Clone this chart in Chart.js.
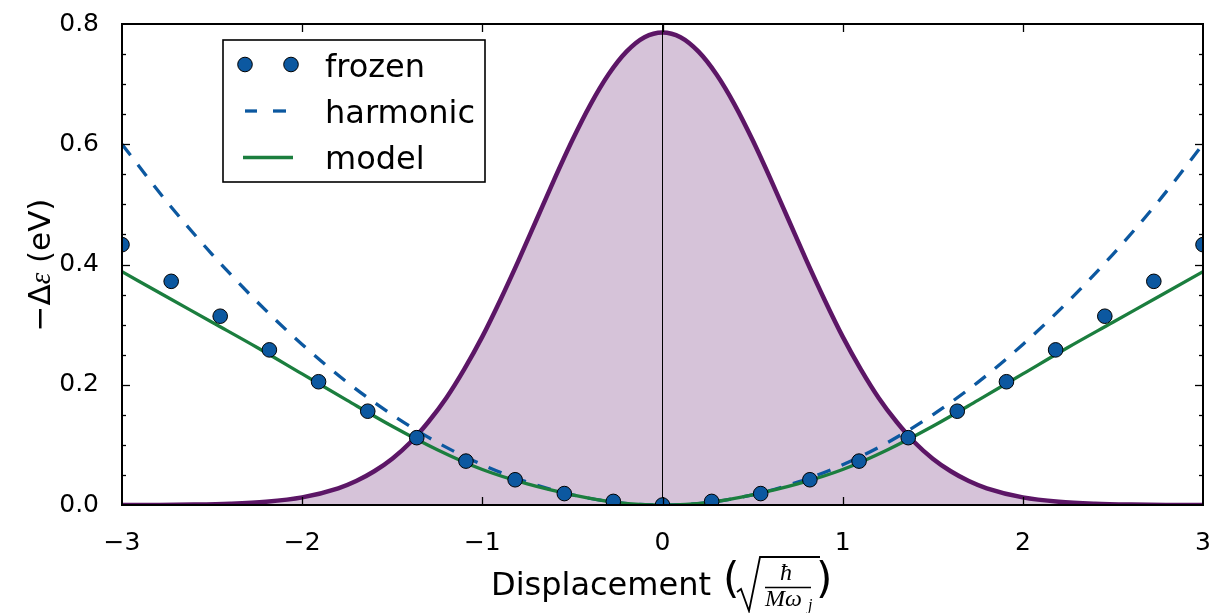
<!DOCTYPE html>
<html><head><meta charset="utf-8">
<script src="https://cdn.jsdelivr.net/npm/chart.js@4.4.1/dist/chart.umd.min.js"></script>
<style>html,body{margin:0;padding:0;background:#fff;overflow:hidden}#wrap{width:1229px;height:613px}</style>
</head><body><div id="wrap"><canvas id="c" width="1229" height="613"></canvas></div>
<script>
// ---- data ----
const frozenX = [-3, -2.727, -2.455, -2.182, -1.909, -1.636, -1.364, -1.091, -0.818, -0.545, -0.273, 0,
                 0.273, 0.545, 0.818, 1.091, 1.364, 1.636, 1.909, 2.182, 2.455, 2.727, 3];
const frozenY = [0.433, 0.372, 0.314, 0.258, 0.205, 0.156, 0.112, 0.073, 0.042, 0.019, 0.006, 0.0,
                 0.006, 0.019, 0.042, 0.073, 0.112, 0.156, 0.205, 0.258, 0.314, 0.372, 0.433];

const curveX = [-3, -2.75, -2.5, -2.25, -2, -1.75, -1.5, -1.25, -1, -0.75, -0.5, -0.25, 0,
                0.25, 0.5, 0.75, 1, 1.25, 1.5, 1.75, 2, 2.25, 2.5, 2.75, 3];
const harmonicY = [0.600, 0.504, 0.417, 0.338, 0.267, 0.204, 0.150, 0.104, 0.067, 0.038, 0.017, 0.004, 0,
                   0.004, 0.017, 0.038, 0.067, 0.104, 0.150, 0.204, 0.267, 0.338, 0.417, 0.504, 0.600];
const modelY = [0.388, 0.346, 0.304, 0.262, 0.218, 0.174, 0.131, 0.092, 0.059, 0.035, 0.017, 0.004, 0,
                0.004, 0.017, 0.035, 0.059, 0.092, 0.131, 0.174, 0.218, 0.262, 0.304, 0.346, 0.388];

const densityX = [-3, -2.8, -2.6, -2.4, -2.2, -2, -1.8, -1.7, -1.6, -1.5, -1.4, -1.3, -1.2, -1.1, -1, -0.9, -0.8, -0.7,
                  -0.6, -0.5, -0.4, -0.3, -0.2, -0.1, 0,
                  0.1, 0.2, 0.3, 0.4, 0.5, 0.6, 0.7, 0.8, 0.9, 1, 1.1, 1.2, 1.3, 1.4, 1.5, 1.6, 1.7, 1.8,
                  2, 2.2, 2.4, 2.6, 2.8, 3];
const densityY = [0.0001, 0.0002, 0.0007, 0.0021, 0.0054, 0.0127, 0.0278, 0.0399, 0.0561, 0.077, 0.104, 0.138, 0.178, 0.226, 0.280, 0.341, 0.406, 0.474,
                  0.542, 0.607, 0.666, 0.716, 0.754, 0.778, 0.786,
                  0.778, 0.754, 0.716, 0.666, 0.607, 0.542, 0.474, 0.406, 0.341, 0.280, 0.226, 0.178, 0.138, 0.104, 0.077, 0.0561, 0.0399, 0.0278,
                  0.0127, 0.0054, 0.0021, 0.0007, 0.0002, 0.0001];

const zeroLineX = [0, 0];
const zeroLineY = [0, 0.8];

const xTicks = [-3, -2, -1, 0, 1, 2, 3];
const yTicks = [0.0, 0.2, 0.4, 0.6, 0.8];
const legendLabels = ['frozen', 'harmonic', 'model'];

// ---- styles ----
const BLUE = '#0c58a0', GREEN = '#1b7e3e', PURPLE = '#5c1666', FILL = '#d6c3d9';
const SANS = '"DejaVu Sans", sans-serif';
const SERIF = '"Liberation Serif", "DejaVu Serif", serif';
const pts = (xs, ys) => xs.map((x, i) => ({x: x, y: ys[i]}));
const minus = v => (v < 0 ? '\u2212' + Math.abs(v) : String(v));

const framePlugin = {
  id: 'frame',
  afterDraw(chart) {
    const {ctx, chartArea: a, scales: {x, y}} = chart;
    const line = (x1, y1, x2, y2) => { ctx.beginPath(); ctx.moveTo(x1, y1); ctx.lineTo(x2, y2); ctx.stroke(); };
    ctx.save();
    ctx.strokeStyle = '#000';
    ctx.lineWidth = 1.3;
    // inward ticks, y: major every 0.2, minor every 0.05
    for (let k = 1; k < 16; k++) {
      const py = Math.round(y.getPixelForValue(k * 0.05)) + 0.5;
      const L = (k % 4 === 0) ? 8 : 4;
      line(a.left, py, a.left + L, py);
      line(a.right, py, a.right - L, py);
    }
    for (const v of xTicks) {
      if (v === -3 || v === 3) continue;
      const px = Math.round(x.getPixelForValue(v)) + 0.5;
      line(px, a.bottom, px, a.bottom - 8);
      line(px, a.top, px, a.top + 8);
    }
    // frame
    ctx.lineWidth = 2;
    ctx.strokeRect(a.left, a.top, a.right - a.left, a.bottom - a.top);

    // legend
    ctx.fillStyle = '#fff';
    ctx.fillRect(223, 40, 262, 142);
    ctx.lineWidth = 1.6;
    ctx.strokeRect(223, 40, 262, 142);
    ctx.fillStyle = BLUE; ctx.strokeStyle = '#000'; ctx.lineWidth = 1;
    for (const cx of [245, 291]) { ctx.beginPath(); ctx.arc(cx, 64.5, 7.3, 0, Math.PI * 2); ctx.fill(); ctx.stroke(); }
    ctx.strokeStyle = BLUE; ctx.lineWidth = 3.3;
    line(245, 111, 257, 111); line(273, 111, 286, 111);
    ctx.strokeStyle = GREEN;
    line(243, 157.5, 293, 157.5);
    ctx.fillStyle = '#000';
    ctx.font = '32px ' + SANS;
    ctx.textBaseline = 'alphabetic';
    ctx.textAlign = 'left';
    ctx.fillText(legendLabels[0], 325, 76.5);
    ctx.fillText(legendLabels[1], 325, 122.5);
    ctx.fillText(legendLabels[2], 325, 168.5);

    // y title: −Δε (eV)
    ctx.save();
    ctx.translate(50, 265);
    ctx.rotate(-Math.PI / 2);
    const yParts = [['\u2212\u0394', '31px ' + SANS], ['\u03b5', 'italic 29px ' + SERIF], [' (eV)', '31px ' + SANS]];
    let tot = 0;
    for (const p of yParts) { ctx.font = p[1]; tot += ctx.measureText(p[0]).width; }
    let cx = -tot / 2;
    for (const p of yParts) { ctx.font = p[1]; ctx.fillText(p[0], cx, 0); cx += ctx.measureText(p[0]).width; }
    ctx.restore();

    // x title: Displacement ( sqrt(hbar / M omega_j) )
    ctx.font = '32px ' + SANS;
    ctx.fillText('Displacement ', 491, 595);
    ctx.font = '42px ' + SANS;
    ctx.fillText('(', 723, 593);
    ctx.fillText(')', 816, 593);
    ctx.strokeStyle = '#000';
    ctx.lineWidth = 1.8;
    ctx.beginPath();
    ctx.moveTo(737, 592); ctx.lineTo(741, 589); ctx.lineTo(749, 611); ctx.lineTo(760, 557); ctx.lineTo(820, 557);
    ctx.stroke();
    ctx.lineWidth = 1.6;
    line(765, 587.5, 811, 587.5);
    ctx.font = 'italic 24px ' + SERIF;
    ctx.textAlign = 'center';
    ctx.fillText('\u0127', 786, 580);
    ctx.textAlign = 'left';
    ctx.fillText('M\u03c9', 765, 606);
    ctx.font = 'italic 16px ' + SERIF;
    ctx.fillText('j', 808, 610);
    ctx.restore();
  }
};

new Chart(document.getElementById('c'), {
  type: 'line',
  data: {
    datasets: [
      {label: legendLabels[0], data: pts(frozenX, frozenY), showLine: false, pointRadius: 7.3, pointHoverRadius: 7.3,
       pointBackgroundColor: BLUE, pointBorderColor: '#000', pointBorderWidth: 1, order: 0, clip: 0},
      {label: legendLabels[2], data: pts(curveX, modelY), borderColor: GREEN, borderWidth: 3.3, pointRadius: 0,
       cubicInterpolationMode: 'monotone', fill: false, order: 1, clip: 0},
      {label: legendLabels[1], data: pts(curveX, harmonicY), borderColor: BLUE, borderWidth: 3.3, borderDash: [14, 12],
       pointRadius: 0, cubicInterpolationMode: 'monotone', fill: false, order: 2, clip: 0},
      {label: 'zero', data: pts(zeroLineX, zeroLineY), borderColor: '#000', borderWidth: 1, pointRadius: 0, fill: false, order: 3, clip: 0},
      {label: 'density', data: pts(densityX, densityY), borderColor: PURPLE, borderWidth: 4.5, backgroundColor: FILL,
       fill: 'origin', pointRadius: 0, cubicInterpolationMode: 'monotone', order: 4, clip: 0}
    ]
  },
  options: {
    responsive: false, animation: false, devicePixelRatio: 1,
    layout: {padding: {top: 24, right: 26, left: 0, bottom: 0}},
    plugins: {legend: {display: false}, tooltip: {enabled: false}},
    scales: {
      x: {type: 'linear', min: -3, max: 3,
          afterBuildTicks: s => { s.ticks = xTicks.map(v => ({value: v})); },
          ticks: {font: {family: SANS, size: 25}, color: '#000', padding: 15, maxRotation: 0, callback: v => minus(v)},
          grid: {display: false}, border: {display: false},
          afterFit: s => { s.height = 108; s.paddingLeft = 0; s.paddingRight = 0; }},
      y: {type: 'linear', min: 0, max: 0.8,
          afterBuildTicks: s => { s.ticks = yTicks.map(v => ({value: v})); },
          ticks: {font: {family: SANS, size: 25}, color: '#000', padding: 15, callback: v => Number(v).toFixed(1)},
          grid: {display: false}, border: {display: false},
          afterFit: s => { s.width = 122; s.paddingTop = 0; s.paddingBottom = 0; }}
    }
  },
  plugins: [framePlugin]
});
</script>
</body></html>
